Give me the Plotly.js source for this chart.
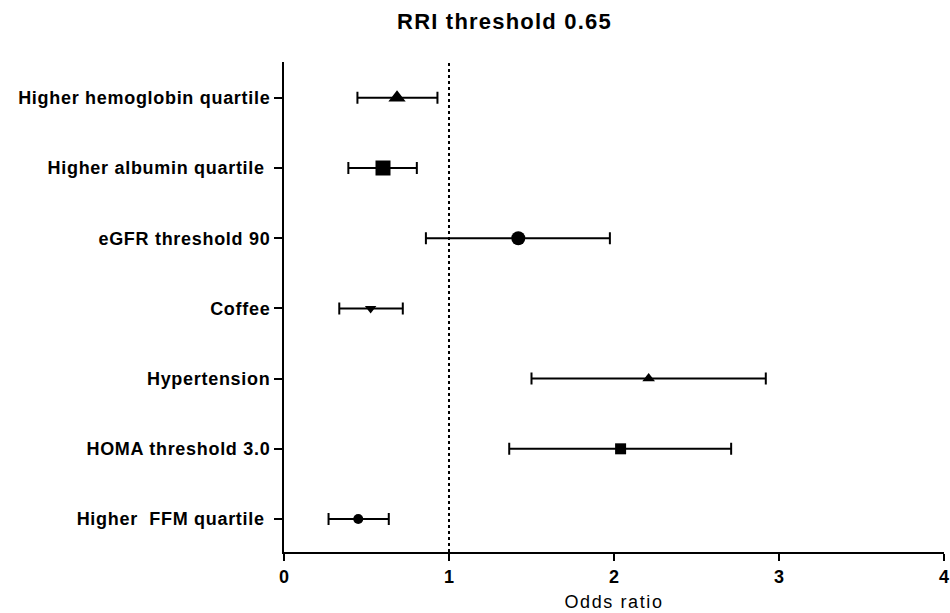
<!DOCTYPE html>
<html><head><meta charset="utf-8">
<script src="https://cdn.plot.ly/plotly-3.0.1.min.js"></script>
<style>
html,body{margin:0;padding:0;background:#fff}#chart{width:950px;height:613px}
#chart .ytick text{letter-spacing:0.7px}
#chart .gtitle{letter-spacing:1.2px}
#chart .xtitle{letter-spacing:1.6px}
</style>
</head><body><div id="chart"></div>
<script>
var categories = ["Higher\u00a0\u00a0FFM quartile\u00a0", "HOMA threshold 3.0", "Hypertension", "Coffee", "eGFR threshold 90", "Higher albumin quartile\u00a0", "Higher hemoglobin quartile"];
var oddsRatio = [0.45, 2.04, 2.21, 0.525, 1.42, 0.60, 0.685];
var ciLow = [0.27, 1.365, 1.50, 0.335, 0.86, 0.39, 0.445];
var ciHigh = [0.635, 2.71, 2.92, 0.72, 1.975, 0.805, 0.93];
var symbols = ["circle", "square", "triangle-up", "triangle-down", "circle", "square", "triangle-up"];
var sizes = [10, 11, 11, 10, 14, 15, 15];
var xTicks = [0, 1, 2, 3, 4];
var refLine = 1;

var pos = categories.map(function(_, i){ return i; });
var trace = {
  type: "scatter", mode: "markers",
  x: oddsRatio, y: pos,
  marker: {symbol: symbols, size: sizes, color: "#000", opacity: 1, line: {width: 0}},
  error_x: {type: "data", symmetric: false,
    array: oddsRatio.map(function(v,i){ return ciHigh[i]-v; }),
    arrayminus: oddsRatio.map(function(v,i){ return v-ciLow[i]; }),
    color: "#000", thickness: 2, width: 6},
  hoverinfo: "x+y", showlegend: false, cliponaxis: false
};
var layout = {
  width: 950, height: 613,
  margin: {l: 284, r: 6, t: 62, b: 61},
  paper_bgcolor: "#fff", plot_bgcolor: "#fff",
  font: {family: "Liberation Sans, Arial, sans-serif", color: "#000"},
  title: {text: "<b>RRI threshold 0.65</b>", x: 0.531, xanchor: "center", xref: "container", yref: "container", y: 0.965, yanchor: "middle", font: {size: 22}},
  xaxis: {range: [0, 4], tickvals: xTicks, ticktext: xTicks.map(function(t){ return "<b>"+t+"</b>"; }),
    showline: true, linecolor: "#000", linewidth: 2, ticks: "outside", ticklen: 7, tickwidth: 2, tickcolor: "#000",
    showgrid: false, zeroline: false, tickfont: {size: 18}, ticklabeloverflow: "allow",
    title: {text: "Odds ratio", font: {size: 18}, standoff: 10}},
  yaxis: {range: [-0.47, 6.51], tickvals: pos, ticktext: categories.map(function(c){ return "<b>"+c+"</b>"; }),
    showline: true, linecolor: "#000", linewidth: 2, ticks: "outside", ticklen: 8, tickwidth: 2, tickcolor: "#000",
    showgrid: false, zeroline: false, tickfont: {size: 18}, ticklabelstandoff: 0},
  shapes: [{type: "line", xref: "x", yref: "paper", x0: refLine, x1: refLine, y0: 0, y1: 1,
    line: {color: "#000", width: 2, dash: "dot"}}]
};
Plotly.newPlot("chart", [trace], layout, {displayModeBar: false, staticPlot: true});
</script></body></html>
